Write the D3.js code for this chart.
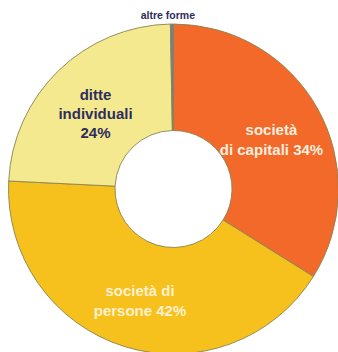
<!DOCTYPE html>
<html>
<head>
<meta charset="utf-8">
<script src="https://cdn.jsdelivr.net/npm/d3@7"></script>
<style>
  html, body { margin: 0; padding: 0; background: #ffffff; }
  svg { display: block; }
  text { font-family: "Liberation Sans", Arial, Helvetica, sans-serif; font-weight: bold; }
</style>
</head>
<body>
<svg id="chart" width="338" height="352"></svg>
<script>
// Forme giuridiche delle imprese (quota %)
const categories = ["società di capitali", "società di persone", "ditte individuali", "altre forme"];
const values = [34, 42, 24, 0.3];
const colors = ["#f2692a", "#f6c11d", "#f4e98f", "#6f7f98"];
const labelLines = [
  v => ["società", "di capitali " + v + "%"],
  v => ["società di", "persone " + v + "%"],
  v => ["ditte", "individuali", v + "%"],
  v => ["altre forme"]
];
const labelColors = ["#fdeedf", "#fdf0cf", "#2e2d5e", "#2e2d5e"];

const svg = d3.select("#chart");
const cx = 173.5, cy = 189;
const outerR = 165, innerR = 58.5;

const data = categories.map((c, i) => ({ name: c, value: values[i], i }));

const pie = d3.pie().sort(null).value(d => d.value);
const arcs = pie(data);

const arc = d3.arc().innerRadius(innerR).outerRadius(outerR);
const labelArc = d3.arc().innerRadius(112).outerRadius(112);
const outsideArc = d3.arc().innerRadius(outerR + 11).outerRadius(outerR + 11);

const g = svg.append("g").attr("transform", `translate(${cx},${cy})`);

g.selectAll("path.slice")
  .data(arcs)
  .join("path")
  .attr("class", "slice")
  .attr("d", arc)
  .attr("fill", d => colors[d.data.i])
  .attr("stroke", "#8a8250")
  .attr("stroke-width", 0.9);

// Labels inside the ring for the main groups
arcs.forEach(d => {
  const i = d.data.i;
  const lines = labelLines[i](d.data.value);
  if (i === 3) {
    const [x, y] = outsideArc.centroid(d);
    g.append("text")
      .attr("x", x - 4)
      .attr("y", -outerR - 5)
      .attr("text-anchor", "middle")
      .attr("font-size", 10.5)
      .attr("fill", labelColors[i])
      .text(lines[0]);
    return;
  }
  const [x, y] = labelArc.centroid(d);
  const lh = lines.length === 3 ? 19 : 20;
  const t = g.append("text")
    .attr("text-anchor", "middle")
    .attr("font-size", 15)
    .attr("fill", labelColors[i]);
  const y0 = y + 5 - (lines.length - 1) * lh / 2 + 5;
  lines.forEach((ln, k) => {
    t.append("tspan")
      .attr("x", x)
      .attr("y", y0 + k * lh)
      .text(ln);
  });
});
</script>
</body>
</html>
